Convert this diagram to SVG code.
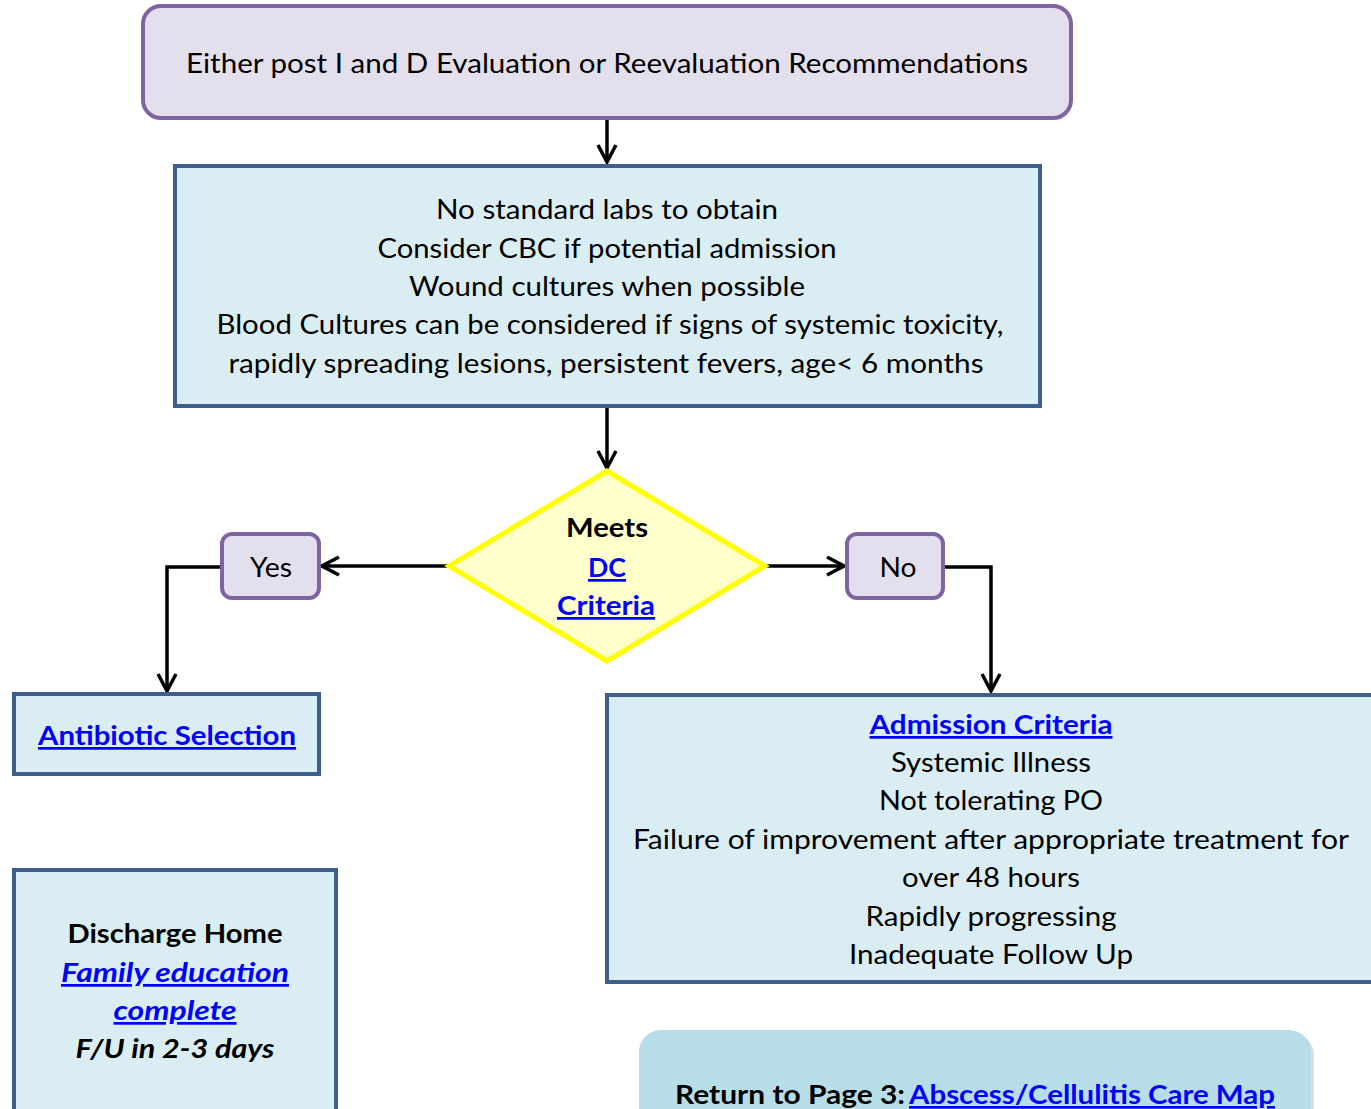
<svg xmlns="http://www.w3.org/2000/svg" width="1371" height="1109" viewBox="0 0 1371 1109">
<style>
text{font-family:Lato,"Liberation Sans",sans-serif;font-size:27px;fill:#000;text-anchor:middle}
.b{font-weight:bold}
.link{fill:#0000ff;text-decoration:underline;font-weight:bold}
.i{font-style:italic}
.purple{fill:#e4dfec;stroke:#8064a2;stroke-width:4}
.blue{fill:#daedf3;stroke:#3e5f8a;stroke-width:4}
.conn{fill:none;stroke:#000;stroke-width:3.5}
</style>
<defs>
<marker id="arr" viewBox="0 0 24 24" refX="21" refY="12" markerWidth="24" markerHeight="24" orient="auto" markerUnits="userSpaceOnUse">
<path d="M4,3 L21,12 L4,21" fill="none" stroke="#000" stroke-width="3.5"/>
</marker>
</defs>
<g id="connectors">
<path class="conn" d="M607,119 V162" marker-end="url(#arr)"/>
<path class="conn" d="M607,407 V468" marker-end="url(#arr)"/>
<path class="conn" d="M449,566 H322" marker-end="url(#arr)"/>
<path class="conn" d="M222,567 H167 V691" marker-end="url(#arr)"/>
<path class="conn" d="M765,566 H844" marker-end="url(#arr)"/>
<path class="conn" d="M944,567 H991 V691" marker-end="url(#arr)"/>
</g>
<g id="start">
<rect class="purple" x="143" y="6" width="928" height="112" rx="18"/>
<text x="607" y="73" textLength="842" lengthAdjust="spacingAndGlyphs">Either post I and D Evaluation or Reevaluation Recommendations</text>
</g>
<g id="labs">
<rect class="blue" x="175" y="166" width="865" height="240"/>
<text x="607" y="219" textLength="342" lengthAdjust="spacingAndGlyphs">No standard labs to obtain</text>
<text x="607" y="258" textLength="459" lengthAdjust="spacingAndGlyphs">Consider CBC if potential admission</text>
<text x="607" y="296" textLength="396" lengthAdjust="spacingAndGlyphs">Wound cultures when possible</text>
<text x="610" y="334" textLength="787" lengthAdjust="spacingAndGlyphs">Blood Cultures can be considered if signs of systemic toxicity,</text>
<text x="606" y="373" textLength="755" lengthAdjust="spacingAndGlyphs">rapidly spreading lesions, persistent fevers, age&lt; 6 months</text>
</g>
<g id="decision">
<polygon points="607,471 765,566 607,661 449,566" fill="#ffffcc" stroke="#ffff00" stroke-width="5"/>
<text class="b" x="607" y="537" textLength="82" lengthAdjust="spacingAndGlyphs">Meets</text>
<text class="link" x="607" y="577" textLength="38" lengthAdjust="spacingAndGlyphs">DC</text>
<text class="link" x="606" y="615" textLength="98" lengthAdjust="spacingAndGlyphs">Criteria</text>
</g>
<g id="yes">
<rect class="purple" x="222" y="534" width="97" height="64" rx="10"/>
<text x="271" y="577" textLength="42" lengthAdjust="spacingAndGlyphs">Yes</text>
</g>
<g id="no">
<rect class="purple" x="847" y="534" width="96" height="64" rx="10"/>
<text x="898" y="577" textLength="37" lengthAdjust="spacingAndGlyphs">No</text>
</g>
<g id="antibiotic">
<rect class="blue" x="14" y="694" width="305" height="80"/>
<text class="link" x="167" y="745" textLength="258" lengthAdjust="spacingAndGlyphs">Antibiotic Selection</text>
</g>
<g id="admission">
<rect class="blue" x="607" y="695" width="780" height="287"/>
<text class="link" x="991" y="734" textLength="243" lengthAdjust="spacingAndGlyphs">Admission Criteria</text>
<text x="991" y="772" textLength="200" lengthAdjust="spacingAndGlyphs">Systemic Illness</text>
<text x="991" y="810" textLength="224" lengthAdjust="spacingAndGlyphs">Not tolerating PO</text>
<text x="991" y="849" textLength="716" lengthAdjust="spacingAndGlyphs">Failure of improvement after appropriate treatment for</text>
<text x="991" y="887" textLength="178" lengthAdjust="spacingAndGlyphs">over 48 hours</text>
<text x="991" y="926" textLength="251" lengthAdjust="spacingAndGlyphs">Rapidly progressing</text>
<text x="991" y="964" textLength="284" lengthAdjust="spacingAndGlyphs">Inadequate Follow Up</text>
</g>
<g id="discharge">
<rect class="blue" x="14" y="870" width="322" height="250"/>
<text class="b" x="175" y="943" textLength="215" lengthAdjust="spacingAndGlyphs">Discharge Home</text>
<text class="link i" x="175" y="982" textLength="228" lengthAdjust="spacingAndGlyphs">Family education</text>
<text class="link i" x="175" y="1020" textLength="123" lengthAdjust="spacingAndGlyphs">complete</text>
<text class="b i" x="175" y="1058" textLength="199" lengthAdjust="spacingAndGlyphs">F/U in 2-3 days</text>
</g>
<g id="return">
<rect x="642" y="1033" width="672" height="100" rx="22" fill="#c8c8c8" opacity="0.6"/>
<rect x="639" y="1030" width="672" height="100" rx="22" fill="#b7dde8"/>
<text class="b" x="675" y="1104" style="text-anchor:start" textLength="230" lengthAdjust="spacingAndGlyphs">Return to Page 3:</text>
<text class="link" x="909" y="1104" style="text-anchor:start" textLength="366" lengthAdjust="spacingAndGlyphs">Abscess/Cellulitis Care Map</text>
</g>
</svg>
